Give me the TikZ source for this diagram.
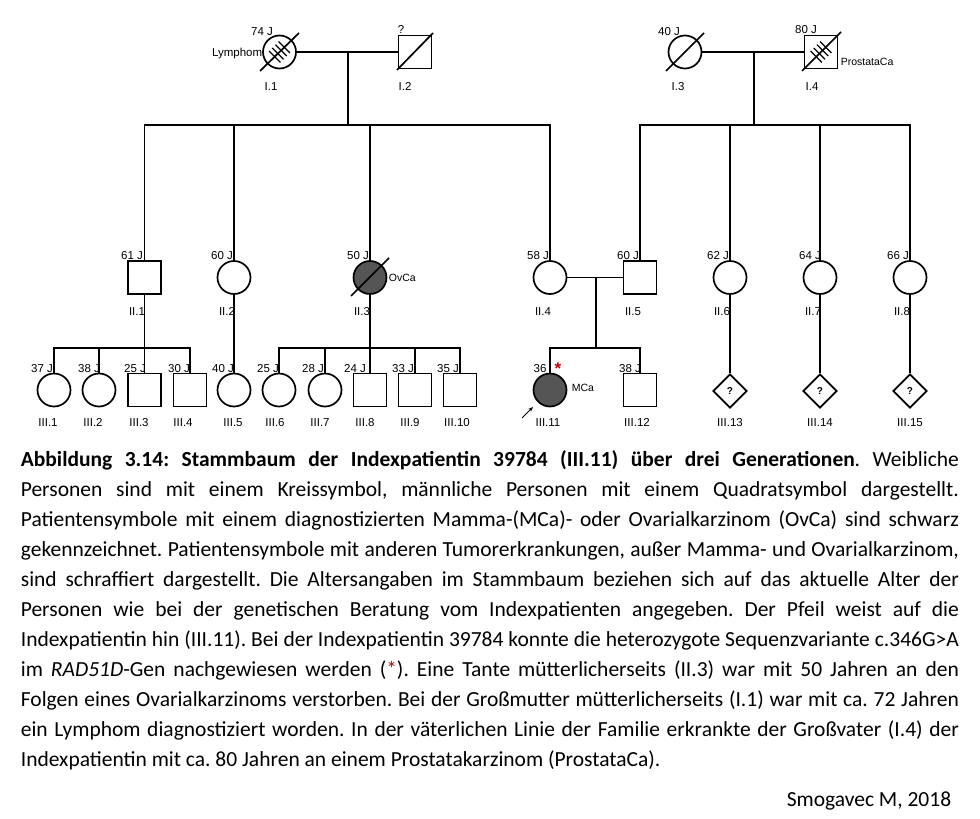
\documentclass[tikz,border=0pt]{standalone}
\usepackage{fontspec}
\setmainfont{Carlito}
\newfontfamily\arialf{Liberation Sans}
\usetikzlibrary{shapes.geometric,arrows.meta}
\definecolor{affgray}{HTML}{555555}
\definecolor{starred}{HTML}{C00000}
\frenchspacing
\begin{document}
\begin{tikzpicture}[x=1pt,y=-1pt, line width=1.7pt,
  fem/.style={circle,draw,minimum size=33pt,inner sep=0pt},
  mal/.style={rectangle,draw,minimum size=33pt,inner sep=0pt},
  unk/.style={diamond,draw,minimum size=34pt,inner sep=0pt,aspect=1,font=\arialf\bfseries\fontsize{10}{12}\selectfont},
  aff/.style={fill=affgray},
  txt/.style={font=\arialf\fontsize{11.5}{13}\selectfont,inner sep=0pt,anchor=base},
  sml/.style={font=\arialf\fontsize{10.5}{12}\selectfont,inner sep=0pt},
  capl/.style={anchor=base west,inner sep=0pt,font=\fontsize{21.5}{25}\selectfont},
  hatch/.style={line width=1.2pt}
]
\fill[white] (0,0) rectangle (980,819);
\useasboundingbox (0,0) rectangle (980,819);

% ---------- Generation I ----------
\node[fem] (I1) at (279.5,52) {};
\node[mal] (I2) at (415,52) {};
\node[fem] (I3) at (685,52) {};
\node[mal] (I4) at (821,52) {};
\draw (I1) ++(-19.5,19) -- ++(39,-38);
\draw (I2) ++(-18,18) -- ++(36,-37);
\draw (I3) ++(-19,19) -- ++(38,-38);
\draw (I4) ++(-19,19) -- ++(39,-39);
\foreach \t in {-6.75,-2.25,2.25,6.75}{
  \draw[hatch,shift={(I1)}] ({\t*0.707-5.66},{-1*(\t)*0.707-5.66}) -- ++(11.3,11.3);
  \draw[hatch,shift={(I4)}] ({\t*0.707-5.66},{-1*(\t)*0.707-5.66}) -- ++(11.3,11.3);
}
\node[txt] (a74) at (262,35) {74 J};
\node[txt,anchor=base east] (lym) at (263,56) {Lymphom};
\node[txt] (lI1) at (271,90) {I.1};
\node[txt] (q2) at (401,33) {?};
\node[txt] (lI2) at (405,90) {I.2};
\node[txt] (a40) at (669,35) {40 J};
\node[txt] (lI3) at (678,90) {I.3};
\node[txt] (a80) at (806,34) {80 J};
\node[sml,anchor=west] (pca) at (840,62) {ProstataCa};
\node[txt] (lI4) at (812,90) {I.4};

\draw (I1) -- (I2);
\draw (I3) -- (I4);
\coordinate (m1) at (348,52);
\coordinate (s1) at (348,125);
\coordinate (m2) at (754,52);
\coordinate (s2) at (754,125);
\draw (m1) -- (s1);
\draw (m2) -- (s2);

% ---------- Generation II ----------
\node[mal] (II1) at (144.5,277.5) {};
\node[fem] (II2) at (234,277.5) {};
\node[fem,aff] (II3) at (370,277.5) {};
\node[fem] (II4) at (550,277.5) {};
\node[mal] (II5) at (640,277.5) {};
\node[fem] (II6) at (730,277.5) {};
\node[fem] (II7) at (820,277.5) {};
\node[fem] (II8) at (910,277.5) {};
\draw (II3) ++(-19,18.5) -- ++(38,-38);

\draw (II1.north) -- (II1.north |- s1) -- (II4.north |- s1) -- (II4.north);
\draw (II2.north) -- (II2.north |- s1);
\draw (II3.north) -- (II3.north |- s1);
\draw (II5.north) -- (II5.north |- s2) -- (II8.north |- s2) -- (II8.north);
\draw (II6.north) -- (II6.north |- s2);
\draw (II7.north) -- (II7.north |- s2);

\foreach \n/\x/\a in {g61/132/61 J, g60/222/60 J, g50/358/50 J, g58/538/58 J, g60b/628/60 J, g62/718/62 J, g64/810/64 J, g66/898/66 J}
  \node[txt] (\n) at (\x,259) {\a};
\foreach \n/\x/\a in {lII1/137/II.1, lII2/227/II.2, lII3/362/II.3, lII4/543/II.4, lII5/633/II.5, lII6/722/II.6, lII7/813/II.7, lII8/902/II.8}
  \node[txt] (\n) at (\x,315) {\a};
\node[sml,anchor=west] (ovca) at (388,278) {OvCa};

% ---------- Generation III ----------
\node[fem] (III1) at (54,390) {};
\node[fem] (III2) at (99,390) {};
\node[mal] (III3) at (144.5,390) {};
\node[mal] (III4) at (190,390) {};
\node[fem] (III5) at (234,390) {};
\node[fem] (III6) at (279,390) {};
\node[fem] (III7) at (325,390) {};
\node[mal] (III8) at (370,390) {};
\node[mal] (III9) at (415,390) {};
\node[mal] (III10) at (460,390) {};
\node[fem,aff] (III11) at (550,390) {};
\node[mal] (III12) at (640,390) {};
\node[unk] (III13) at (730,391) {?};
\node[unk] (III14) at (820,391) {?};
\node[unk] (III15) at (910,391) {?};

\coordinate (s3) at (144.5,348);
\coordinate (s4) at (370,348);
\coordinate (m5) at (596,277.5);
\coordinate (s5) at (596,348);
\draw (II1.south) -- (s3);
\draw (III1.north) -- (III1.north |- s3) -- (III4.north |- s3) -- (III4.north);
\draw (III2.north) -- (III2.north |- s3);
\draw (III3.north) -- (s3);
\draw (II2.south) -- (III5.north);
\draw (II3.south) -- (s4);
\draw (III6.north) -- (III6.north |- s4) -- (III10.north |- s4) -- (III10.north);
\draw (III7.north) -- (III7.north |- s4);
\draw (III8.north) -- (s4);
\draw (III9.north) -- (III9.north |- s4);
\draw (II4) -- (II5);
\draw (m5) -- (s5);
\draw (III11.north) -- (III11.north |- s5) -- (III12.north |- s5) -- (III12.north);
\draw (II6.south) -- (III13.north);
\draw (II7.south) -- (III14.north);
\draw (II8.south) -- (III15.north);

\foreach \n/\x/\a in {h1/42/37 J, h2/89/38 J, h3/135/25 J, h4/179/30 J, h5/223/40 J, h6/268/25 J, h7/313/28 J, h8/355/24 J, h9/403/33 J, h10/448/35 J, h11/540/36, h12/630/38 J}
  \node[txt] (\n) at (\x,372) {\a};
\foreach \n/\x/\a in {lIII1/48/III.1, lIII2/93/III.2, lIII3/139/III.3, lIII4/183/III.4, lIII5/233/III.5, lIII6/275/III.6, lIII7/320/III.7, lIII8/365/III.8, lIII9/410/III.9, lIII10/457/III.10, lIII11/548/III.11, lIII12/637/III.12, lIII13/730/III.13, lIII14/820/III.14, lIII15/910/III.15}
  \node[txt] (\n) at (\x,426) {\a};
\node[font=\arialf\bfseries\fontsize{17}{17}\selectfont,text=starred,inner sep=0pt] (star) at (558,369) {*};
\node[sml,anchor=west] (mca) at (571,388) {MCa};
\coordinate (arrS) at (522,418);
\coordinate (arrE) at (533,407);
\draw[line width=0.8pt,-{Stealth[length=5pt,width=4pt]}] (arrS) -- (arrE);

% ---------- Caption ----------
\node[capl] (c1) at (20,466) {\makebox[938pt][s]{\bfseries Abbildung 3.14: Stammbaum der Indexpatientin 39784 (III.11) über drei Generationen\mdseries. Weibliche}};
\node[capl] (c2) at (20,496) {\makebox[938pt][s]{Personen sind mit einem Kreissymbol, männliche Personen mit einem Quadratsymbol dargestellt.}};
\node[capl] (c3) at (20,526) {\makebox[938pt][s]{Patientensymbole mit einem diagnostizierten Mamma-(MCa)- oder Ovarialkarzinom (OvCa) sind schwarz}};
\node[capl] (c4) at (20,556) {\makebox[938pt][s]{gekennzeichnet. Patientensymbole mit anderen Tumorerkrankungen, außer Mamma- und Ovarialkarzinom,}};
\node[capl] (c5) at (20,586) {\makebox[938pt][s]{sind schraffiert dargestellt. Die Altersangaben im Stammbaum beziehen sich auf das aktuelle Alter der}};
\node[capl] (c6) at (20,616) {\makebox[938pt][s]{Personen wie bei der genetischen Beratung vom Indexpatienten angegeben. Der Pfeil weist auf die}};
\node[capl] (c7) at (20,646) {\makebox[938pt][s]{Indexpatientin hin (III.11). Bei der Indexpatientin 39784 konnte die heterozygote Sequenzvariante c.346G>A}};
\node[capl] (c8) at (20,676) {\makebox[938pt][s]{im \textit{RAD51D}-Gen nachgewiesen werden (\textcolor{starred}{*}). Eine Tante mütterlicherseits (II.3) war mit 50 Jahren an den}};
\node[capl] (c9) at (20,706) {\makebox[938pt][s]{Folgen eines Ovarialkarzinoms verstorben. Bei der Großmutter mütterlicherseits (I.1) war mit ca. 72 Jahren}};
\node[capl] (c10) at (20,736) {\makebox[938pt][s]{ein Lymphom diagnostiziert worden. In der väterlichen Linie der Familie erkrankte der Großvater (I.4) der}};
\node[capl] (c11) at (20,766) {Indexpatientin mit ca. 80 Jahren an einem Prostatakarzinom (ProstataCa).};
\node[capl,anchor=base east] (src) at (952,806) {Smogavec M, 2018};
\end{tikzpicture}
\end{document}
